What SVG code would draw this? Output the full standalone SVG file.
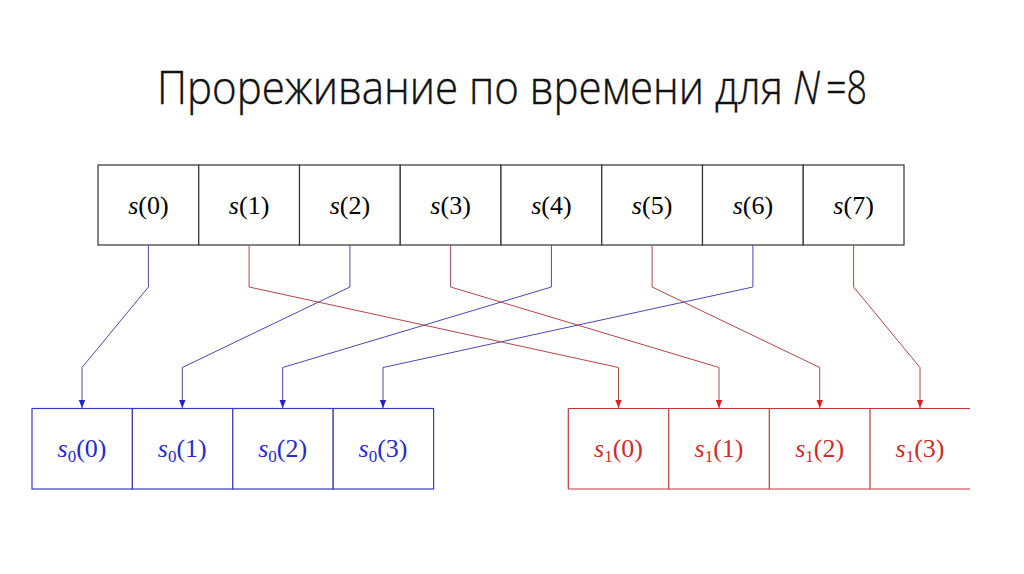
<svg xmlns="http://www.w3.org/2000/svg" width="1024" height="574" viewBox="0 0 1024 574">
<defs>
<style>
.title{font-family:"Open Sans","Liberation Sans",sans-serif;font-weight:300;font-size:46px;fill:#111;stroke:#111;stroke-width:0.4}
.lbl{font-family:"Liberation Serif","DejaVu Serif",serif;font-size:26px;text-anchor:middle}
.it{font-style:italic}
.sub{font-size:17px}
.top rect{fill:#fff;stroke:#333;stroke-width:1.2}
.blue rect{fill:#fff;stroke:#3a3ac0;stroke-width:1.2}
.red line{stroke:#c03838;stroke-width:1.2}
.bl{stroke:#4848b0;stroke-width:1;fill:none}
.rl{stroke:#b04848;stroke-width:1;fill:none}
</style>
<marker id="ab" markerWidth="9" markerHeight="9" refX="8" refY="4.5" orient="auto" markerUnits="userSpaceOnUse"><path d="M0,1.3 L8,4.5 L0,7.7 Z" fill="#2020d0"/></marker>
<marker id="ar" markerWidth="9" markerHeight="9" refX="8" refY="4.5" orient="auto" markerUnits="userSpaceOnUse"><path d="M0,1.3 L8,4.5 L0,7.7 Z" fill="#e02020"/></marker>
</defs>
<rect width="1024" height="574" fill="#fff"/>
<g id="title">
<text class="title" x="157" y="104" textLength="626" lengthAdjust="spacingAndGlyphs">Прореживание по времени для</text>
<text class="title" x="793" y="104" font-style="italic" textLength="27" lengthAdjust="spacingAndGlyphs">N</text>
<text class="title" x="826" y="104" textLength="41" lengthAdjust="spacingAndGlyphs">=8</text>
</g>

<g id="top" class="top">
<g id="n-s0"><rect x="98" y="165" width="100.75" height="80"/><text class="lbl" x="148.4" y="214"><tspan class="it">s</tspan>(0)</text></g>
<g id="n-s1"><rect x="198.75" y="165" width="100.75" height="80"/><text class="lbl" x="249.1" y="214"><tspan class="it">s</tspan>(1)</text></g>
<g id="n-s2"><rect x="299.5" y="165" width="100.75" height="80"/><text class="lbl" x="349.9" y="214"><tspan class="it">s</tspan>(2)</text></g>
<g id="n-s3"><rect x="400.25" y="165" width="100.75" height="80"/><text class="lbl" x="450.6" y="214"><tspan class="it">s</tspan>(3)</text></g>
<g id="n-s4"><rect x="501" y="165" width="100.75" height="80"/><text class="lbl" x="551.4" y="214"><tspan class="it">s</tspan>(4)</text></g>
<g id="n-s5"><rect x="601.75" y="165" width="100.75" height="80"/><text class="lbl" x="652.1" y="214"><tspan class="it">s</tspan>(5)</text></g>
<g id="n-s6"><rect x="702.5" y="165" width="100.75" height="80"/><text class="lbl" x="752.9" y="214"><tspan class="it">s</tspan>(6)</text></g>
<g id="n-s7"><rect x="803.25" y="165" width="100.75" height="80"/><text class="lbl" x="853.6" y="214"><tspan class="it">s</tspan>(7)</text></g>
</g>

<g id="bottom-blue" class="blue">
<g id="n-s00"><rect x="32" y="408.5" width="100.4" height="80.5"/><text class="lbl" x="82" y="457" fill="#2a2ad0"><tspan class="it">s</tspan><tspan class="sub" dy="5">0</tspan><tspan dy="-5">(0)</tspan></text></g>
<g id="n-s01"><rect x="132.4" y="408.5" width="100.4" height="80.5"/><text class="lbl" x="182.3" y="457" fill="#2a2ad0"><tspan class="it">s</tspan><tspan class="sub" dy="5">0</tspan><tspan dy="-5">(1)</tspan></text></g>
<g id="n-s02"><rect x="232.8" y="408.5" width="100.4" height="80.5"/><text class="lbl" x="282.7" y="457" fill="#2a2ad0"><tspan class="it">s</tspan><tspan class="sub" dy="5">0</tspan><tspan dy="-5">(2)</tspan></text></g>
<g id="n-s03"><rect x="333.2" y="408.5" width="100.4" height="80.5"/><text class="lbl" x="383" y="457" fill="#2a2ad0"><tspan class="it">s</tspan><tspan class="sub" dy="5">0</tspan><tspan dy="-5">(3)</tspan></text></g>
</g>

<g id="bottom-red" class="red">
<line x1="568.3" y1="408.5" x2="970" y2="408.5"/>
<line x1="568.3" y1="489" x2="970" y2="489"/>
<g id="n-s10"><line x1="568.3" y1="408.5" x2="568.3" y2="489"/><text class="lbl" x="618.5" y="457" fill="#d02a2a"><tspan class="it">s</tspan><tspan class="sub" dy="5">1</tspan><tspan dy="-5">(0)</tspan></text></g>
<g id="n-s11"><line x1="668.7" y1="408.5" x2="668.7" y2="489"/><text class="lbl" x="719" y="457" fill="#d02a2a"><tspan class="it">s</tspan><tspan class="sub" dy="5">1</tspan><tspan dy="-5">(1)</tspan></text></g>
<g id="n-s12"><line x1="769.3" y1="408.5" x2="769.3" y2="489"/><text class="lbl" x="819.7" y="457" fill="#d02a2a"><tspan class="it">s</tspan><tspan class="sub" dy="5">1</tspan><tspan dy="-5">(2)</tspan></text></g>
<g id="n-s13"><line x1="870" y1="408.5" x2="870" y2="489"/><text class="lbl" x="920" y="457" fill="#d02a2a"><tspan class="it">s</tspan><tspan class="sub" dy="5">1</tspan><tspan dy="-5">(3)</tspan></text></g>
</g>

<g id="connectors">
<polyline class="bl" points="148.4,245 148.4,287 82,367.5 82,408" marker-end="url(#ab)"/>
<polyline class="bl" points="349.9,245 349.9,287 182.3,367.5 182.3,408" marker-end="url(#ab)"/>
<polyline class="bl" points="551.4,245 551.4,287 282.7,367.5 282.7,408" marker-end="url(#ab)"/>
<polyline class="bl" points="752.9,245 752.9,287 383,367.5 383,408" marker-end="url(#ab)"/>
<polyline class="rl" points="249.1,245 249.1,287 618.5,367.5 618.5,408" marker-end="url(#ar)"/>
<polyline class="rl" points="450.6,245 450.6,287 719,367.5 719,408" marker-end="url(#ar)"/>
<polyline class="rl" points="652.1,245 652.1,287 819.7,367.5 819.7,408" marker-end="url(#ar)"/>
<polyline class="rl" points="853.6,245 853.6,287 920,367.5 920,408" marker-end="url(#ar)"/>
</g>
</svg>
